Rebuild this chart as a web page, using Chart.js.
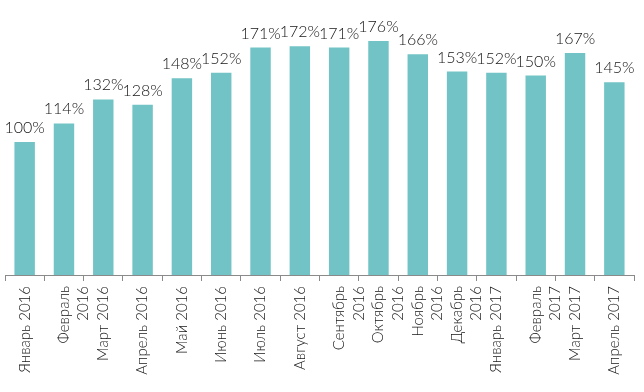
<!DOCTYPE html>
<html>
<head>
<meta charset="utf-8">
<script src="https://cdn.jsdelivr.net/npm/chart.js@4/dist/chart.umd.min.js"></script>
<style>
  html, body { margin: 0; padding: 0; background: #fff; }
  #wrap { width: 644px; height: 392px; }
</style>
</head>
<body>
<div id="wrap"><canvas id="chart" width="644" height="392"></canvas></div>
<script>
// months (multi-line where the reference wraps)
const months = [
    'Январь 2016', ['Февраль', '2016'], 'Март 2016', 'Апрель 2016',
    'Май 2016', 'Июнь 2016', 'Июль 2016', 'Август 2016',
    ['Сентябрь', '2016'], ['Октябрь', '2016'], ['Ноябрь', '2016'], ['Декабрь', '2016'],
    'Январь 2017', ['Февраль', '2017'], 'Март 2017', 'Апрель 2017'
];
// index, % of January 2016
const values = [100, 114, 132, 128, 148, 152, 171, 172, 171, 176, 166, 153, 152, 150, 167, 145];

const barColor = 'rgb(114, 195, 198)';
const textColor = '#151515';
const fontFamily = 'Lato, "Liberation Sans", Arial, sans-serif';

// draws the percent above every bar
const valueLabels = {
    id: 'valueLabels',
    afterDatasetsDraw: function (chart) {
        let ctx = chart.ctx;
        let meta = chart.getDatasetMeta(0);
        ctx.save();
        ctx.font = '300 16px ' + fontFamily;
        ctx.fillStyle = textColor;
        ctx.textAlign = 'center';
        ctx.textBaseline = 'alphabetic';
        meta.data.forEach(function (bar, i) {
            let p = bar.getProps(['x', 'y'], true);
            ctx.fillText(values[i] + '%', p.x, p.y - 9);
        });
        ctx.restore();
    }
};

new Chart(document.getElementById('chart'), {
    type: 'bar',
    data: {
        labels: months,
        datasets: [{
            data: values,
            backgroundColor: barColor,
            borderWidth: 0,
            barPercentage: 0.52,
            categoryPercentage: 1
        }]
    },
    options: {
        responsive: false,
        animation: false,
        layout: { padding: { top: 9, left: 5, right: 10, bottom: 0 } },
        plugins: {
            legend: { display: false },
            tooltip: { enabled: false }
        },
        scales: {
            x: {
                grid: {
                    display: true,
                    drawOnChartArea: false,
                    drawTicks: true,
                    tickLength: 6,
                    offset: true,
                    color: '#8a8a8a'
                },
                border: { display: true, color: '#8a8a8a', width: 1 },
                ticks: {
                    minRotation: 90,
                    maxRotation: 90,
                    autoSkip: false,
                    padding: 5,
                    color: textColor,
                    font: { family: fontFamily, size: 15, weight: '300', lineHeight: 1.3 }
                },
                afterFit: function (scale) { scale.height = 117; }
            },
            y: {
                display: false,
                min: 0,
                max: 200
            }
        }
    },
    plugins: [valueLabels]
});
</script>
</body>
</html>
